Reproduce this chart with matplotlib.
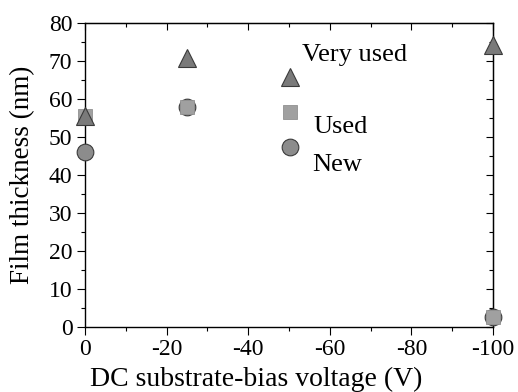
import matplotlib
matplotlib.use("Agg")
import matplotlib.pyplot as plt
from matplotlib.ticker import MultipleLocator

plt.rcParams['font.family'] = ['Liberation Serif', 'DejaVu Serif']
plt.rcParams['axes.unicode_minus'] = False

voltage = [0, -25, -100]
very_used = [55.5, 70.8, 74.2]
used = [55.5, 58.0, 2.5]
new = [46.0, 58.0, 2.5]

labels = ['Very used', 'Used', 'New']

fig = plt.figure(figsize=(5.18, 3.92), dpi=100)
ax = fig.add_axes([0.164, 0.166, 0.788, 0.775])

ec = '#3a3a3a'
ax.plot(voltage, new, 'o', ms=12, mfc='#8c8c8c', mec=ec, mew=0.8, ls='none', clip_on=False, zorder=3)
ax.plot(voltage, used, 's', ms=10, mfc='#a0a0a0', mec='#909090', mew=0.6, ls='none', clip_on=False, zorder=4)
ax.plot(voltage, very_used, '^', ms=13, mfc='#7a7a7a', mec=ec, mew=0.8, ls='none', clip_on=False, zorder=5)

# legend keys and labels placed like the original
ax.plot([0.502], [0.822], '^', ms=13, mfc='#7a7a7a', mec=ec, mew=0.8, transform=ax.transAxes)
ax.plot([0.502], [0.707], 's', ms=10, mfc='#a0a0a0', mec='#909090', mew=0.6, transform=ax.transAxes)
ax.plot([0.502], [0.592], 'o', ms=12, mfc='#8c8c8c', mec=ec, mew=0.8, transform=ax.transAxes)
ax.text(0.532, 0.895, labels[0], transform=ax.transAxes, fontsize=19, va='center')
ax.text(0.559, 0.658, labels[1], transform=ax.transAxes, fontsize=19, va='center')
ax.text(0.556, 0.533, labels[2], transform=ax.transAxes, fontsize=19, va='center')

ax.set_xlim(0, -100)
ax.set_ylim(0, 80)
ax.xaxis.set_major_locator(MultipleLocator(20))
ax.xaxis.set_minor_locator(MultipleLocator(10))
ax.yaxis.set_major_locator(MultipleLocator(10))
ax.yaxis.set_minor_locator(MultipleLocator(5))

ax.tick_params(which='both', direction='out', top=False, right=False, labelsize=17, width=0.8, pad=3)
ax.tick_params(which='major', length=6)
ax.tick_params(which='minor', length=3)
sec_x = ax.secondary_xaxis('top')
sec_x.xaxis.set_major_locator(MultipleLocator(20))
sec_x.xaxis.set_minor_locator(MultipleLocator(10))
sec_x.tick_params(which='both', direction='in', labeltop=False, width=0.8)
sec_x.tick_params(which='major', length=5)
sec_x.tick_params(which='minor', length=3)
sec_y = ax.secondary_yaxis('right')
sec_y.yaxis.set_major_locator(MultipleLocator(10))
sec_y.yaxis.set_minor_locator(MultipleLocator(5))
sec_y.tick_params(which='both', direction='in', labelright=False, width=0.8)
sec_y.tick_params(which='major', length=5)
sec_y.tick_params(which='minor', length=3)

for s in ax.spines.values():
    s.set_linewidth(1.0)

ax.set_xlabel('DC substrate-bias voltage (V)', fontsize=20)
ax.xaxis.set_label_coords(0.42, -0.13)
ax.set_ylabel('Film thickness (nm)', fontsize=19.5, labelpad=10)

fig.savefig('out.png', dpi=100)
